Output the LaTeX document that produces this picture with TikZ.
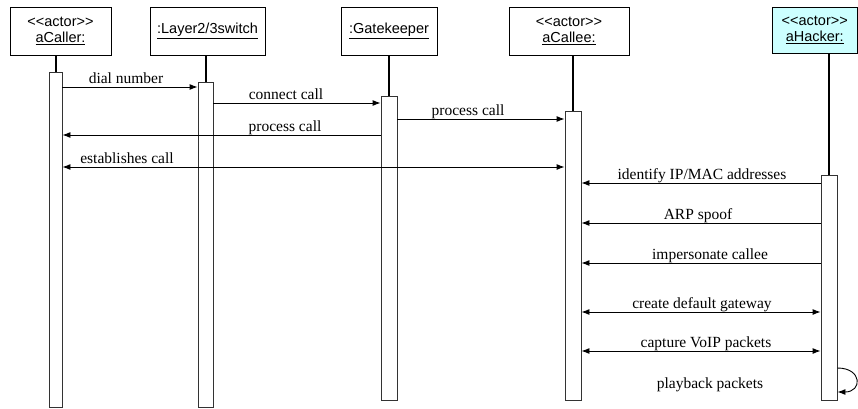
\documentclass[tikz,border=0pt]{standalone}
\usepackage{fontspec}
\setmainfont{Liberation Serif}
\newfontfamily\headfont{Liberation Sans}
\usetikzlibrary{arrows.meta,calc}

\tikzset{
  objbox/.style={draw=black, line width=0.9pt, fill=white, inner sep=0pt,
    align=center, font=\headfont\fontsize{14.5}{16.5}\selectfont},
  actbar/.style={draw=black!80, line width=0.9pt, fill=white, inner sep=0pt,
    anchor=north},
  lifeline/.style={line width=2pt, black},
  msg/.style={line width=0.9pt, -{Latex[length=8pt,width=6pt]}},
  bimsg/.style={line width=0.9pt, {Latex[length=8pt,width=6pt]}-{Latex[length=8pt,width=6pt]}},
  lbl/.style={font=\fontsize{15.5}{17}\selectfont, inner sep=0pt, anchor=base},
}

\begin{document}
\begin{tikzpicture}[x=1pt, y=-1pt]
\useasboundingbox (0,0) rectangle (858,408);

% object headers
\node[objbox, minimum width=101pt, minimum height=48pt] (caller) at (60.5,31)
  {<<actor>>\\\underline{aCaller:}};
\node[objbox, minimum width=115pt, minimum height=48pt] (switch) at (207.5,31)
  {\underline{:Layer2/3switch}};
\node[objbox, minimum width=96pt, minimum height=48pt] (gate) at (389,31)
  {\underline{:Gatekeeper}};
\node[objbox, minimum width=120pt, minimum height=48pt] (callee) at (569,31)
  {<<actor>>\\\underline{aCallee:}};
\node[objbox, fill={rgb,255:red,204;green,255;blue,255}, minimum width=85pt, minimum height=46pt] (hacker) at (814.75,30)
  {<<actor>>\\\underline{aHacker:}};

% activation bars
\node[actbar, minimum width=13pt, minimum height=335pt] (bcaller) at (55.5,72) {};
\node[actbar, minimum width=15pt, minimum height=325pt] (bswitch) at (205.5,82) {};
\node[actbar, minimum width=16pt, minimum height=304pt] (bgate) at (389,96) {};
\node[actbar, minimum width=16pt, minimum height=289pt] (bcallee) at (573,111) {};
\node[actbar, minimum width=16pt, minimum height=225pt] (bhacker) at (829,175) {};

% lifelines
\draw[lifeline] (caller.south -| bcaller.north) -- (bcaller.north);
\draw[lifeline] (switch.south -| bswitch.north) -- (bswitch.north);
\draw[lifeline] (gate.south -| bgate.north) -- (bgate.north);
\draw[lifeline] (callee.south -| bcallee.north) -- (bcallee.north);
\draw[lifeline] (hacker.south -| bhacker.north) -- (bhacker.north);

% call set-up messages
\draw[msg] (bcaller.east |- 0,87) -- (bswitch.west |- 0,87);
\node[lbl] (m1) at (126,83) {dial number};
\draw[msg] (bswitch.east |- 0,103) -- (bgate.west |- 0,103);
\node[lbl] (m2) at (286,99) {connect call};
\draw[msg] (bgate.east |- 0,119) -- (bcallee.west |- 0,119);
\node[lbl] (m3) at (468,115) {process call};
\draw[msg] (bgate.west |- 0,135) -- (bcaller.east |- 0,135);
\node[lbl] (m4) at (285,131) {process call};
\draw[bimsg] (bcaller.east |- 0,167) -- (bcallee.west |- 0,167);
\node[lbl] (m5) at (127,163) {establishes call};

% attack messages
\draw[msg] (bhacker.west |- 0,183) -- (bcallee.east |- 0,183);
\node[lbl] (m6) at (702,179) {identify IP/MAC addresses};
\draw[msg] (bhacker.west |- 0,223) -- (bcallee.east |- 0,223);
\node[lbl] (m7) at (698,219) {ARP spoof};
\draw[msg] (bhacker.west |- 0,263) -- (bcallee.east |- 0,263);
\node[lbl] (m8) at (710,259) {impersonate callee};
\draw[bimsg] (bcallee.east |- 0,312) -- (bhacker.west |- 0,312);
\node[lbl] (m9) at (702,308) {create default gateway};
\draw[bimsg] (bcallee.east |- 0,351) -- (bhacker.west |- 0,351);
\node[lbl] (m10) at (706,347) {capture VoIP packets};

% self message
\coordinate (selfout) at (bhacker.east |- 0,368);
\coordinate (selfin) at (bhacker.east |- 0,392);
\draw[msg] (selfout) .. controls ($(selfout)+(25,0)$) and ($(selfin)+(25,0)$) .. (selfin);
\node[lbl] (m11) at (710,388) {playback packets};
\end{tikzpicture}
\end{document}
